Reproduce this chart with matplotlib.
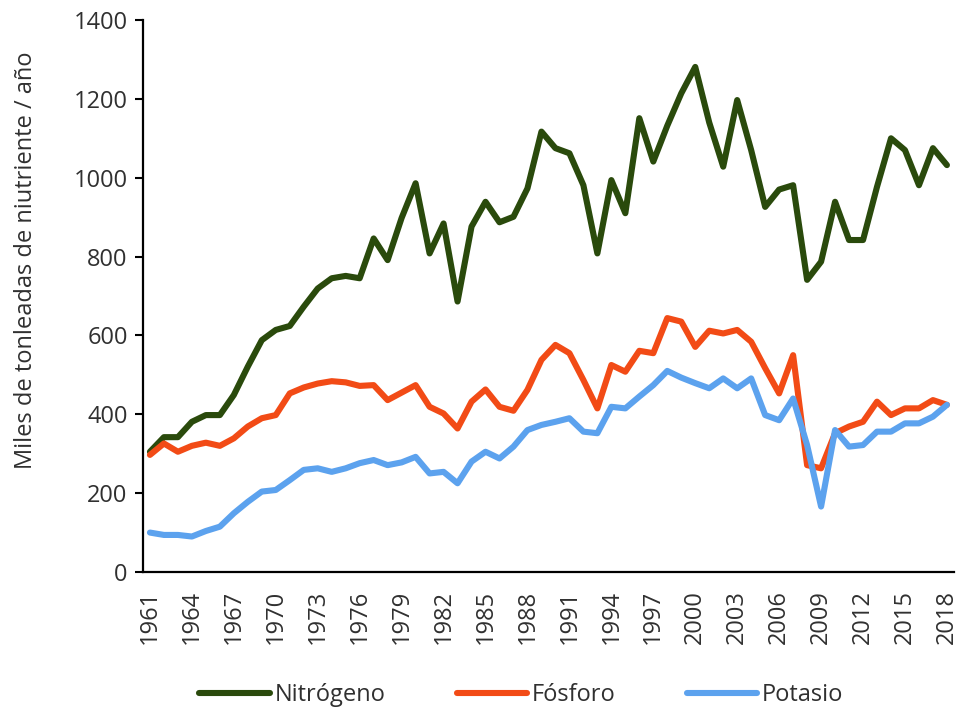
import matplotlib
matplotlib.use("Agg")
from matplotlib import pyplot as plt

years = list(range(1961, 2019))

nitrogeno = [305, 342, 342, 381, 398, 398, 449, 521, 588, 614,
             624, 673, 719, 745, 751, 745, 846, 791, 898, 986,
             808, 884, 686, 876, 939, 887, 901, 973, 1117, 1075,
             1062, 981, 808, 994, 910, 1151, 1041, 1132, 1214, 1281,
             1140, 1028, 1197, 1070, 926, 970, 981, 741, 787, 939,
             842, 842, 977, 1100, 1070, 981, 1075, 1032]

fosforo = [297, 326, 305, 320, 328, 320, 339, 369, 390, 398,
           453, 468, 478, 484, 481, 472, 474, 436, 455, 474,
           419, 402, 364, 432, 463, 419, 409, 462, 538, 576,
           555, 487, 415, 525, 508, 561, 555, 644, 635, 571,
           612, 605, 614, 584, 517, 453, 550, 271, 263, 352,
           369, 381, 432, 398, 415, 415, 436, 424]

potasio = [100, 94, 94, 90, 104, 115, 149, 178, 204, 208,
           233, 259, 263, 254, 263, 276, 284, 271, 278, 292,
           250, 254, 225, 280, 305, 288, 318, 360, 373, 381,
           390, 356, 352, 419, 415, 445, 474, 510, 493, 479,
           466, 491, 466, 491, 398, 385, 440, 322, 166, 360,
           318, 322, 356, 356, 377, 377, 394, 424]

series = [("Nitrógeno", nitrogeno, "#2a4a0c"),
          ("Fósforo", fosforo, "#f24b16"),
          ("Potasio", potasio, "#5ca2ee")]

plt.rcParams['font.family'] = ['Open Sans', 'DejaVu Sans']
text_color = "#303030"
fs = 17

fig = plt.figure(figsize=(9.62, 7.15), dpi=100)
ax = fig.add_axes([0.1486, 0.2, 0.843, 0.772])

for name, vals, col in series:
    ax.plot(years, vals, color=col, lw=4.4, label=name,
            solid_capstyle='round', solid_joinstyle='round')

ax.set_xlim(1960.5, 2018.5)
ax.set_ylim(0, 1400)
ax.set_yticks(range(0, 1401, 200))
ax.set_xticks(years[::3])
ax.set_xticklabels([str(y) for y in years[::3]], rotation=90)

for side in ('top', 'right'):
    ax.spines[side].set_visible(False)
for side in ('left', 'bottom'):
    ax.spines[side].set_linewidth(1.6)
    ax.spines[side].set_color('black')

ax.tick_params(axis='y', direction='out', length=6, width=1.5,
               labelsize=fs, labelcolor=text_color, pad=5)
ax.tick_params(axis='x', length=0, labelsize=fs,
               labelcolor=text_color, pad=13)

ax.set_ylabel("Miles de tonleadas de niutriente / año", fontsize=fs,
              color=text_color)
ax.yaxis.set_label_coords(-0.13, 0.565)

fig.legend(loc='center', bbox_to_anchor=(0.542, 0.028), ncol=3,
           frameon=False, fontsize=fs, handlelength=3.0,
           handletextpad=0.2, columnspacing=3.0, labelcolor=text_color)

fig.savefig("out.png", dpi=100)
